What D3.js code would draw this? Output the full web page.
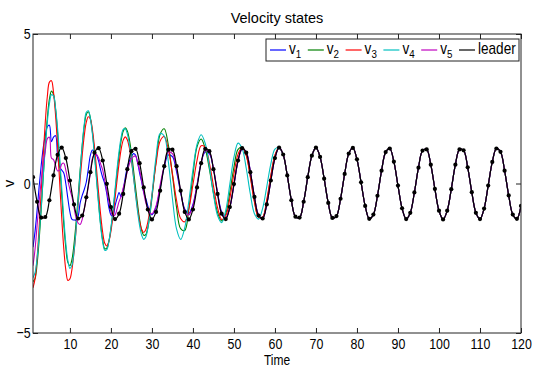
<!DOCTYPE html>
<html>
<head>
<meta charset="utf-8">
<script src="https://cdn.jsdelivr.net/npm/d3@7"></script>
<style>
  body { margin: 0; background: #fff; }
  svg { display: block; font-family: 'Liberation Sans', Arial, Helvetica, sans-serif; }
</style>
</head>
<body>
<svg id="chart" width="533" height="368"></svg>
<script>
// axis ticks
const xTicks = [10, 20, 30, 40, 50, 60, 70, 80, 90, 100, 110, 120];
const yTicks = [-5, 0, 5];

// time grids: leader sampled every 1, followers every 0.5 up to 29.5 then every 1 up to 60
const leaderT = d3.range(1, 121);
const followerT = d3.range(1, 30, 0.5).concat(d3.range(30, 61));

const leader = [
  0.21, -0.61, -1.14, -1.12, -0.56, 0.27, 0.96, 1.20, 0.85, 0.10,
  -0.70, -1.17, -1.07, -0.46, 0.38, 1.03, 1.18, 0.77, -0.01, -0.79,
  -1.19, -1.01, -0.35, 0.48, 1.08, 1.16, 0.68, -0.13, -0.87, -1.20,
  -0.95, -0.24, 0.58, 1.13, 1.13, 0.58, -0.24, -0.95, -1.20, -0.87,
  -0.13, 0.68, 1.16, 1.08, 0.48, -0.35, -1.01, -1.19, -0.79, -0.02,
  0.77, 1.18, 1.03, 0.38, -0.45, -1.07, -1.17, -0.70, 0.10, 0.85,
  1.20, 0.97, 0.27, -0.56, -1.11, -1.14, -0.61, 0.21, 0.93, 1.20,
  0.89, 0.16, -0.65, -1.15, -1.09, -0.51, 0.32, 1.00, 1.19, 0.81,
  0.04, -0.75, -1.18, -1.04, -0.41, 0.43, 1.05, 1.17, 0.73, -0.07,
  -0.83, -1.19, -0.98, -0.30, 0.53, 1.10, 1.14, 0.63, -0.18, -0.91,
  -1.20, -0.91, -0.19, 0.63, 1.14, 1.11, 0.54, -0.29, -0.98, -1.19,
  -0.84, -0.07, 0.72, 1.17, 1.06, 0.43, -0.40, -1.04, -1.18, -0.75
];

const v1 = [
  -2.13, -1.6, -0.9, -0.1, 0.6, 1.2, 1.6, 1.9, 1.95, 1.4, 1.55, 1.6, 0.9, 0.55, 0.45, 0.35,
  0.0, -0.5, -0.95, -1.2, -1.22, -1.22, -1.1, -0.65, -0.4, -0.2, 0.05, 0.5, 0.95, 1.12, 1.05,
  0.95, 0.75, 0.45, 0.2, 0.0, -0.35, -0.8, -1.05, -1.1, -0.75, -0.5, -0.3, -0.45, -0.2, 0.2,
  0.55, 0.75, 0.9, 1.0, 0.95, 0.7, 0.35, 0.05, -0.3, -0.5, -0.75, -0.95,
  -1.05, -0.8, -0.15, 0.55, 0.95, 0.9, 0.4, -0.3, -0.85, -1.0, -0.7, -0.05, 0.7, 1.05, 1.0,
  0.5, -0.3, -0.95, -1.15, -0.8, -0.05, 0.75, 1.15, 1.05, 0.4, -0.45, -1.05, -1.17, -0.7, 0.1, 0.85
];
const v2 = [
  -3.28, -3.18, -2.69, -1.89, -0.87, 0.24, 1.30, 2.20, 2.82, 3.09, 2.98, 2.49, 1.69, 0.70, -0.36,
  -1.35, -2.15, -2.64, -2.75, -2.54, -2.03, -1.31, -0.45, 0.45, 1.27, 1.92, 2.31, 2.40, 2.19, 1.70,
  1.01, 0.19, -0.64, -1.37, -1.90, -2.18, -2.16, -1.93, -1.51, -0.95, -0.30, 0.36, 0.96, 1.44, 1.75,
  1.86, 1.76, 1.47, 1.03, 0.47, -0.13, -0.70, -1.20, -1.56, -1.73, -1.71, -1.48, -1.06,
  -0.50, 0.73, 1.65, 1.83, 1.29, 0.28, -0.80, -1.51, -1.57, -0.86, 0.28, 1.23, 1.49, 1.17, 0.49,
  -0.32, -0.97, -1.25, -1.01, -0.30, 0.55, 1.14, 1.21, 0.95, 0.25, -0.58, -1.12, -1.13, -0.60, 0.24, 0.93
];
const v3 = [
  -3.49, -3.19, -2.48, -1.46, -0.27, 0.96, 2.07, 2.92, 3.39, 3.44, 3.05, 2.28, 1.24, 0.04, -1.14,
  -2.16, -2.89, -3.24, -3.19, -2.87, -2.31, -1.57, -0.73, 0.14, 0.94, 1.60, 2.05, 2.23, 2.15, 1.79,
  1.20, 0.47, -0.32, -1.05, -1.64, -2.00, -2.09, -1.94, -1.60, -1.10, -0.51, 0.11, 0.68, 1.15, 1.45,
  1.56, 1.46, 1.19, 0.76, 0.24, -0.32, -0.84, -1.27, -1.54, -1.64, -1.55, -1.29, -0.89,
  -0.39, 0.66, 1.42, 1.57, 1.14, 0.33, -0.56, -1.17, -1.28, -0.84, -0.04, 0.77, 1.26, 1.21, 0.69,
  -0.08, -0.81, -1.20, -1.08, -0.49, 0.32, 0.98, 1.20, 0.93, 0.20, -0.62, -1.13, -1.12, -0.55, 0.28, 0.95
];
const v4 = [
  -3.15, -2.98, -2.49, -1.73, -0.79, 0.23, 1.22, 2.06, 2.67, 2.97, 2.93, 2.53, 1.83, 0.90, -0.13,
  -1.14, -1.99, -2.58, -2.84, -2.73, -2.27, -1.53, -0.60, 0.39, 1.29, 1.99, 2.38, 2.43, 2.16, 1.64,
  0.92, 0.10, -0.72, -1.44, -1.96, -2.23, -2.21, -1.95, -1.49, -0.89, -0.20, 0.49, 1.09, 1.55, 1.81,
  1.83, 1.66, 1.31, 0.81, 0.23, -0.37, -0.94, -1.41, -1.73, -1.87, -1.79, -1.49, -1.00,
  -0.39, 0.88, 1.67, 1.59, 0.73, -0.50, -1.52, -1.87, -1.48, -0.60, 0.46, 1.31, 1.63, 1.34, 0.58,
  -0.35, -1.07, -1.31, -0.90, -0.02, 0.88, 1.35, 1.17, 0.51, -0.35, -1.01, -1.19, -0.83, -0.11, 0.66, 1.15
];
const v5 = [
  -2.75, -2.2, -1.4, -0.6, 0.1, 0.7, 1.1, 1.5, 1.55, 0.85, 0.8, 0.6, 0.42, 0.45, 0.65, 0.68,
  0.45, 0.1, -0.2, -0.45, -0.8, -1.15, -1.32, -1.37, -1.2, -0.85, -0.5, -0.1, 0.35, 0.85, 0.97,
  0.97, 0.85, 0.65, 0.45, 0.1, -0.25, -0.6, -0.95, -1.09, -1.05, -0.85, -0.6, -0.42, -0.15, 0.1,
  0.4, 0.65, 0.82, 0.9, 0.92, 0.7, 0.45, 0.1, -0.3, -0.64, -0.85, -0.98,
  -1.02, -0.75, -0.05, 0.6, 1.05, 1.0, 0.5, -0.25, -0.9, -1.05, -0.75, -0.05, 0.7, 1.1, 1.05,
  0.5, -0.3, -1.0, -1.15, -0.8, -0.05, 0.75, 1.15, 1.05, 0.4, -0.45, -1.05, -1.17, -0.7, 0.1, 0.85
];

const seriesNames = ['1', '2', '3', '4', '5'];
const colors = ['#0000ff', '#008000', '#ff0000', '#00bfbf', '#bf00bf', '#000000'];

const width = 533, height = 368;
const margin = { top: 34, right: 12, bottom: 35, left: 33 };
const plotW = width - margin.left - margin.right;
const plotH = height - margin.top - margin.bottom;
const squeeze = 'scale(0.8,1)'; // the source fonts are drawn narrow

const svg = d3.select('#chart');
const g = svg.append('g').attr('transform', `translate(${margin.left},${margin.top})`);

const x = d3.scaleLinear().domain([1, 120]).range([0, plotW]);
const y = d3.scaleLinear().domain([-5, 5]).range([plotH, 0]);

g.append('clipPath').attr('id', 'clip')
  .append('rect').attr('width', plotW).attr('height', plotH);

// followers converge onto the leader after t = 60, so they share its tail
const tailT = leaderT.filter(t => t > 60);
const tailV = leader.slice(60);
const toPoints = (ts, vs) => ts.map((t, i) => ({ t, v: vs[i] }));

const followers = [v1, v2, v3, v4, v5].map(vs =>
  toPoints(followerT.concat(tailT), vs.concat(tailV)));
const leaderPts = toPoints(leaderT, leader);

const line = d3.line()
  .x(d => x(d.t))
  .y(d => y(d.v))
  .curve(d3.curveCatmullRom.alpha(0.5));

const plot = g.append('g').attr('clip-path', 'url(#clip)');

followers.forEach((pts, i) => {
  plot.append('path')
    .datum(pts)
    .attr('fill', 'none')
    .attr('stroke', colors[i])
    .attr('stroke-width', 1.1)
    .attr('d', line);
});

plot.append('path')
  .datum(leaderPts)
  .attr('fill', 'none')
  .attr('stroke', colors[5])
  .attr('stroke-width', 1.2)
  .attr('d', line);

plot.append('g')
  .selectAll('circle')
  .data(leaderPts)
  .join('circle')
  .attr('cx', d => x(d.t))
  .attr('cy', d => y(d.v))
  .attr('r', 2.1)
  .attr('fill', '#000');

// axes, matlab style: inward ticks mirrored on all four sides
const tickLen = 5;
const styleAxis = sel => {
  sel.select('.domain').remove();
  sel.selectAll('line').attr('stroke', '#222');
  sel.selectAll('text')
    .attr('fill', '#000')
    .attr('font-size', 15.5)
    .attr('font-family', null)
    .attr('transform', squeeze);
};

g.append('g')
  .attr('transform', `translate(0,${plotH})`)
  .call(d3.axisBottom(x).tickValues(xTicks).tickSizeInner(-tickLen).tickSizeOuter(0).tickPadding(5))
  .call(styleAxis);

g.append('g')
  .call(d3.axisTop(x).tickValues(xTicks).tickSizeInner(-tickLen).tickSizeOuter(0).tickFormat(''))
  .call(styleAxis);

g.append('g')
  .call(d3.axisLeft(y).tickValues(yTicks).tickSizeInner(-tickLen).tickSizeOuter(0).tickPadding(3))
  .call(styleAxis);

g.append('g')
  .attr('transform', `translate(${plotW},0)`)
  .call(d3.axisRight(y).tickValues(yTicks).tickSizeInner(-tickLen).tickSizeOuter(0).tickFormat(''))
  .call(styleAxis);

g.append('rect')
  .attr('width', plotW)
  .attr('height', plotH)
  .attr('fill', 'none')
  .attr('stroke', '#222')
  .attr('stroke-width', 1);

// title and axis labels
g.append('text')
  .attr('x', plotW / 2)
  .attr('y', -11)
  .attr('text-anchor', 'middle')
  .attr('font-size', 14.5)
  .text('Velocity states');

g.append('text')
  .attr('transform', `translate(${plotW / 2},${plotH + 32}) ${squeeze}`)
  .attr('text-anchor', 'middle')
  .attr('font-size', 15)
  .text('Time');

g.append('text')
  .attr('transform', `translate(${-24},${plotH / 2}) rotate(-90)`)
  .attr('text-anchor', 'middle')
  .attr('dy', '0.35em')
  .attr('font-size', 15)
  .text('v');

// legend
const legend = g.append('g').attr('transform', `translate(${233},${5})`);
const legendW = 253, legendH = 22, step = 37.8;

legend.append('rect')
  .attr('width', legendW)
  .attr('height', legendH)
  .attr('fill', '#fff')
  .attr('stroke', '#222');

const labels = seriesNames.map(n => ({ base: 'v', sub: n })).concat([{ base: 'leader', sub: '' }]);

const items = legend.selectAll('.legend-item')
  .data(labels)
  .join('g')
  .attr('class', 'legend-item')
  .attr('transform', (d, i) => `translate(${4 + i * step},0)`);

items.append('line')
  .attr('x1', 0)
  .attr('x2', 16)
  .attr('y1', 11)
  .attr('y2', 11)
  .attr('stroke', (d, i) => colors[i])
  .attr('stroke-width', 1.2);

const label = items.append('text')
  .attr('transform', `translate(19,15) scale(0.85,1)`)
  .attr('font-size', 16)
  .attr('font-family', null);

label.append('tspan').text(d => d.base);
label.append('tspan')
  .attr('dy', 4)
  .attr('font-size', 11.5)
  .text(d => d.sub);
</script>
</body>
</html>
